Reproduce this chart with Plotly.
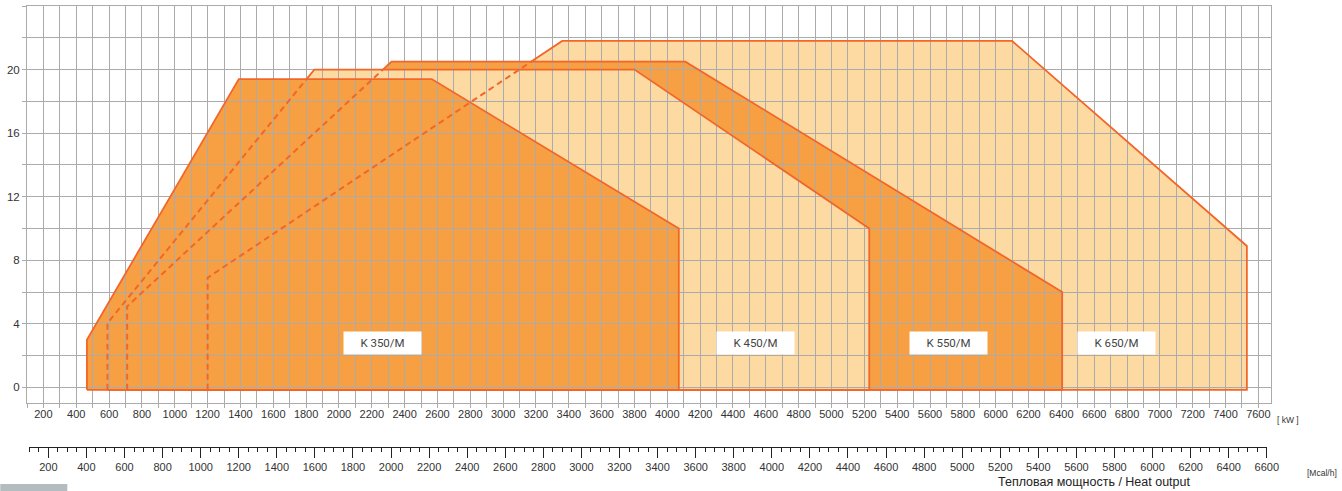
import numpy as np
import plotly.graph_objects as go

# ---------------- data ----------------
models = ["K 350/M", "K 450/M", "K 550/M", "K 650/M"]
# vertices: bottom-left, left knee, top-left, top-right, right knee, bottom-right
k350_kw = [465, 465, 1390, 2565, 4070, 4070]
k350_p = [-0.15, 3.0, 19.4, 19.4, 10.0, -0.15]
k450_kw = [590, 590, 1850, 3800, 5230, 5230]
k450_p = [-0.15, 4.05, 20.0, 20.0, 10.0, -0.15]
k550_kw = [710, 710, 2320, 4110, 6405, 6405]
k550_p = [-0.15, 5.1, 20.5, 20.5, 6.0, -0.15]
k650_kw = [1200, 1200, 3360, 6100, 7530, 7530]
k650_p = [-0.15, 6.9, 21.8, 21.8, 8.9, -0.15]
label_kw = [2265, 4535, 5710, 6735]
label_p = [2.8, 2.8, 2.8, 2.8]

kw_grid = list(range(100, 7601, 100))
kw_text = [str(v) if v % 200 == 0 else "" for v in kw_grid]
y_grid = list(range(0, 25, 2))
y_text = [str(v) if (v % 4 == 0 and v < 24) else "" for v in y_grid]
mcal_range = [100, 6601]

# ---------------- styles ----------------
DARK = "#F7A043"
LIGHT = "#FDDAA2"
EDGE = "#F2662A"
GRID = "#ABABAB"
FONT = "Liberation Sans, Arial, sans-serif"

polys = [  # front to back
    (k350_kw, k350_p, DARK),
    (k450_kw, k450_p, LIGHT),
    (k550_kw, k550_p, DARK),
    (k650_kw, k650_p, LIGHT),
]

fig = go.Figure()
shapes = []
# fills drawn back to front, below the grid
for kw, p, col in reversed(polys):
    path = "M " + " L ".join(f"{x},{y}" for x, y in zip(kw, p)) + " Z"
    shapes.append(dict(type="path", path=path, xref="x", yref="y",
                       fillcolor=col, line=dict(width=0), layer="below"))

# outlines
for i, (kw, p, col) in enumerate(polys):
    if i == 0:
        fig.add_trace(go.Scatter(x=kw + [kw[0]], y=p + [p[0]], mode="lines",
                                 line=dict(color=EDGE, width=1.8),
                                 hoverinfo="skip", showlegend=False))
        continue
    front_top = polys[i - 1][1][2]
    ex = float(np.interp(front_top, [p[1], p[2]], [kw[1], kw[2]]))
    fig.add_trace(go.Scatter(x=[kw[0], kw[1], ex], y=[p[0], p[1], front_top],
                             mode="lines",
                             line=dict(color=EDGE, width=2, dash="6px,4px"),
                             hoverinfo="skip", showlegend=False))
    fig.add_trace(go.Scatter(x=[ex] + kw[2:] + [kw[0]],
                             y=[front_top] + p[2:] + [p[0]],
                             mode="lines", line=dict(color=EDGE, width=1.8),
                             hoverinfo="skip", showlegend=False))

# invisible trace that carries the Mcal/h scale
fig.add_trace(go.Scatter(x=mcal_range, y=[0, 0], xaxis="x2", yaxis="y2",
                         mode="markers", marker=dict(opacity=0, size=1),
                         hoverinfo="skip", showlegend=False))

for name, x, y in zip(models, label_kw, label_p):
    fig.add_annotation(x=x, y=y, xref="x", yref="y", text=name,
                       showarrow=False, bgcolor="white", width=73, height=18,
                       borderpad=2, xanchor="center", yanchor="middle",
                       font=dict(family="Roboto, sans-serif", size=11.5,
                                 color="#444444"))

shapes.append(dict(type="rect", xref="paper", yref="paper",
                   x0=-0.0215, x1=0.0324, y0=-0.0998, y1=-0.0839,
                   fillcolor="#B5BCBF", line=dict(width=0)))

fig.add_annotation(xref="paper", yref="paper", x=1.0139, y=0.0612,
                   xanchor="center", yanchor="middle",
                   text="[ kW ]", showarrow=False,
                   font=dict(family=FONT, size=8.5, color="#333333"))
fig.add_annotation(xref="paper", yref="paper", x=1.0412, y=-0.059,
                   xanchor="center", yanchor="middle",
                   text="[Mcal/h]", showarrow=False,
                   font=dict(family=FONT, size=8.5, color="#333333"))
fig.add_annotation(xref="paper", yref="paper", x=0.858, y=-0.0794,
                   xanchor="center", yanchor="middle",
                   text="Тепловая мощность / Heat output", showarrow=False,
                   font=dict(family=FONT, size=12.5, color="#222222"))

ydom = [(447 - 403.3) / 441, 1]

fig.update_layout(
    width=1342, height=491,
    margin=dict(l=27, r=71, t=6, b=44, autoexpand=False),
    paper_bgcolor="white", plot_bgcolor="rgba(0,0,0,0)",
    shapes=shapes,
    showlegend=False,
    xaxis=dict(
        range=[100, 7677], domain=[0, 1], anchor="y",
        tickmode="array", tickvals=kw_grid, ticktext=kw_text,
        showgrid=True, gridcolor=GRID, gridwidth=1,
        ticks="outside", ticklen=4, tickcolor=GRID,
        showline=True, linecolor=GRID, linewidth=1, mirror=True,
        zeroline=False, automargin=False, ticklabelstandoff=-4,
        tickfont=dict(family=FONT, size=11, color="#333333"),
    ),
    yaxis=dict(
        range=[-1, 24], domain=ydom, anchor="x",
        tickmode="array", tickvals=y_grid, ticktext=y_text,
        showgrid=True, gridcolor=GRID, gridwidth=1,
        ticks="outside", ticklen=4, tickcolor=GRID,
        showline=True, linecolor=GRID, linewidth=1, mirror=True,
        zeroline=False, automargin=False,
        tickfont=dict(family=FONT, size=11.5, color="#333333"),
    ),
    xaxis2=dict(
        range=mcal_range, domain=[(29.3 - 27) / 1244, (1267 - 27) / 1244],
        anchor="y2",
        tickmode="linear", tick0=0, dtick=200,
        showgrid=False, zeroline=False, automargin=False,
        showline=True, linecolor="#222222", linewidth=1,
        ticks="outside", ticklen=10, tickcolor="#222222", tickwidth=1,
        tickfont=dict(family=FONT, size=11, color="#333333"),
        minor=dict(dtick=50, tick0=0, ticks="outside", ticklen=4,
                   tickcolor="#222222", tickwidth=1, showgrid=False),
    ),
    yaxis2=dict(domain=[0, 0.004], anchor="x2", visible=False, range=[-1, 1]),
)

fig.write_html("out.html", config={"displayModeBar": False},
               post_script="document.body.style.margin='0';")
